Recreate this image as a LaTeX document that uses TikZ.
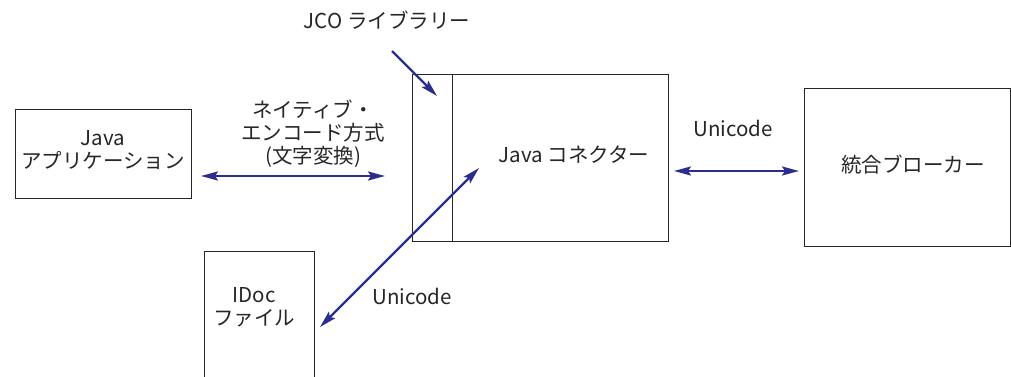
\documentclass[tikz,border=0pt]{standalone}
\usepackage{fontspec}
\setmainfont{Noto Sans CJK JP}
\usetikzlibrary{arrows.meta}
\definecolor{arrowblue}{HTML}{2B2E8C}
\tikzset{
  box/.style={draw=black!85, line width=1pt},
  lbl/.style={font=\fontsize{20.5}{23}\selectfont, text=black!85, inner sep=0pt, align=center},
  conn/.style={draw=arrowblue, line width=2.2pt, -{Stealth[length=17pt,width=9pt,inset=3pt]}},
  biconn/.style={draw=arrowblue, line width=2.2pt, {Stealth[length=17pt,width=9pt,inset=3pt]}-{Stealth[length=17pt,width=9pt,inset=3pt]}}
}
\begin{document}
\begin{tikzpicture}[x=1pt,y=-1pt]
\useasboundingbox (0,0) rectangle (1011,377);
% boxes
\draw[box] (15,110) rectangle (191,198);
\draw[box] (412,75) rectangle (668,241);
\draw[box] (452,75) -- (452,241);
\draw[box] (804,89) rectangle (1010,246);
\draw[box] (204,377) -- (204,251) -- (314,251) -- (314,377);
% labels
\node[lbl] (app) at (103,150) {Java\\アプリケーション};
\node[lbl] (jco) at (387,20) {JCO ライブラリー};
\node[lbl] (native) at (313,134) {ネイティブ・\\エンコード方式\\(文字変換)};
\node[lbl] (conn) at (574,155) {Java コネクター};
\node[lbl] (uni1) at (733,128) {Unicode};
\node[lbl] (broker) at (913,165) {統合ブローカー};
\node[lbl] (idoc) at (254,307) {IDoc\\ファイル};
\node[lbl] (uni2) at (412,296) {Unicode};
% connector endpoints
\coordinate (n1) at (201,176);
\coordinate (n2) at (385,176);
\coordinate (u1) at (674,171);
\coordinate (u2) at (799,171);
\coordinate (j1) at (392,51);
\coordinate (j2) at (437,96);
\coordinate (d1) at (479,168);
\coordinate (d2) at (320,327);
% connectors
\draw[biconn] (n1) -- (n2);
\draw[biconn] (u1) -- (u2);
\draw[conn] (j1) -- (j2);
\draw[biconn] (d1) -- (d2);
\end{tikzpicture}
\end{document}
